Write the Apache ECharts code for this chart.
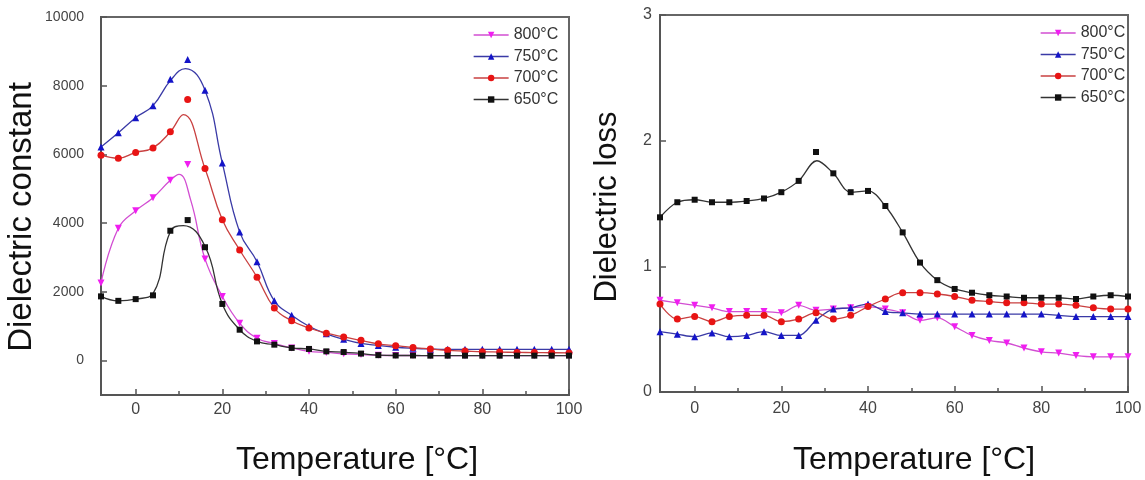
<!DOCTYPE html>
<html><head><meta charset="utf-8">
<script src="https://cdn.jsdelivr.net/npm/echarts@6/dist/echarts.min.js"></script>
<style>html,body{margin:0;padding:0;background:#fff}#c{width:1145px;height:480px}</style>
</head><body><div id="c"></div>
<script>
// ---------- data ----------
const seriesNames = ['800°C', '750°C', '700°C', '650°C'];
const temps = [-8, -4, 0, 4, 8, 12, 16, 20, 24, 28, 32, 36, 40, 44, 48, 52, 56, 60, 64, 68, 72, 76, 80, 84, 88, 92, 96, 100];

// Left: dielectric constant (markers)
const eps800 = [2260, 3850, 4360, 4740, 5250, 5710, 2960, 1870, 1090, 650, 500, 370, 270, 240, 200, 175, 155, 150, 150, 145, 145, 145, 145, 145, 145, 145, 145, 145];
const eps750 = [6220, 6630, 7070, 7420, 8190, 8760, 7870, 5750, 3740, 2880, 1740, 1320, 1000, 780, 620, 500, 440, 390, 360, 340, 330, 330, 330, 330, 330, 330, 330, 330];
const eps700 = [5980, 5890, 6060, 6190, 6660, 7600, 5590, 4100, 3220, 2430, 1530, 1160, 950, 800, 690, 590, 490, 435, 380, 340, 300, 280, 260, 250, 240, 235, 230, 225];
const eps650 = [1870, 1740, 1790, 1900, 3780, 4090, 3300, 1650, 900, 560, 465, 370, 340, 270, 250, 205, 160, 150, 150, 145, 145, 145, 145, 145, 145, 145, 145, 145];

// Left: fitted curves
const curveT800 = [-8, -4, 0, 4, 8, 10, 12.7, 16, 20, 24, 28, 32, 36, 40, 44, 48, 52, 56, 60, 64, 68, 72, 76, 80, 84, 88, 92, 96, 100];
const curve800 = [2260, 3850, 4360, 4740, 5250, 5420, 4670, 2960, 1870, 1090, 650, 500, 370, 270, 240, 200, 175, 155, 150, 150, 145, 145, 145, 145, 145, 145, 145, 145, 145];
const curveT750 = [-8, -4, 0, 4, 8, 11.5, 16, 20, 24, 28, 32, 36, 40, 44, 48, 52, 56, 60, 64, 68, 72, 76, 80, 84, 88, 92, 96, 100];
const curve750 = [6220, 6630, 7070, 7420, 8150, 8500, 7870, 5750, 3740, 2880, 1740, 1320, 1000, 780, 620, 500, 440, 390, 360, 340, 330, 330, 330, 330, 330, 330, 330, 330];
const curveT700 = [-8, -4, 0, 4, 8, 11, 16, 20, 24, 28, 32, 36, 40, 44, 48, 52, 56, 60, 64, 68, 72, 76, 80, 84, 88, 92, 96, 100];
const curve700 = [5980, 5890, 6060, 6190, 6660, 7160, 5590, 4100, 3220, 2430, 1530, 1160, 950, 800, 690, 590, 490, 435, 380, 340, 300, 280, 260, 250, 240, 235, 230, 225];
const curveT650 = [-8, -4, 0, 4, 8, 11, 16, 20, 24, 28, 32, 36, 40, 44, 48, 52, 56, 60, 64, 68, 72, 76, 80, 84, 88, 92, 96, 100];
const curve650 = [1870, 1740, 1790, 1950, 3760, 3930, 3330, 1650, 900, 560, 465, 370, 340, 270, 250, 205, 160, 150, 150, 145, 145, 145, 145, 145, 145, 145, 145, 145];

// Right: dielectric loss (markers)
const loss800 = [0.73, 0.71, 0.69, 0.67, 0.64, 0.64, 0.64, 0.63, 0.69, 0.65, 0.66, 0.67, 0.68, 0.66, 0.63, 0.57, 0.59, 0.52, 0.45, 0.41, 0.39, 0.35, 0.32, 0.31, 0.29, 0.28, 0.28, 0.28];
const loss750 = [0.48, 0.46, 0.44, 0.47, 0.44, 0.45, 0.48, 0.45, 0.45, 0.57, 0.66, 0.67, 0.70, 0.64, 0.63, 0.62, 0.62, 0.62, 0.62, 0.62, 0.62, 0.62, 0.62, 0.61, 0.60, 0.60, 0.60, 0.60];
const loss700 = [0.70, 0.58, 0.60, 0.56, 0.60, 0.61, 0.61, 0.56, 0.58, 0.63, 0.58, 0.61, 0.68, 0.74, 0.79, 0.79, 0.78, 0.76, 0.73, 0.72, 0.71, 0.71, 0.70, 0.70, 0.69, 0.67, 0.66, 0.66];
const loss650 = [1.39, 1.51, 1.53, 1.51, 1.51, 1.52, 1.54, 1.59, 1.68, 1.91, 1.74, 1.59, 1.60, 1.48, 1.27, 1.03, 0.89, 0.82, 0.79, 0.77, 0.76, 0.75, 0.75, 0.75, 0.74, 0.76, 0.77, 0.76];
// Right: fitted curve for 650°C (peak lies below the marker)
const curveT650loss = [-8, -4, 0, 4, 8, 12, 16, 20, 24, 28.2, 32, 36, 40, 44, 48, 52, 56, 60, 64, 68, 72, 76, 80, 84, 88, 92, 96, 100];
const curve650loss = [1.39, 1.51, 1.53, 1.51, 1.51, 1.52, 1.54, 1.59, 1.68, 1.84, 1.74, 1.59, 1.60, 1.48, 1.27, 1.03, 0.89, 0.82, 0.79, 0.77, 0.76, 0.75, 0.75, 0.75, 0.74, 0.76, 0.77, 0.76];

const xTicks = [0, 20, 40, 60, 80, 100];
const xMinorTicks = [10, 30, 50, 70, 90];
const yTicksLeft = [0, 2000, 4000, 6000, 8000, 10000];
const yTicksRight = [0, 1, 2, 3];

// ---------- styling ----------
const FONT = "'Liberation Sans', Arial, sans-serif";
const symbols = ['triangle', 'triangle', 'circle', 'rect'];
const rotates = [180, 0, 0, 0];
const markerColors = ['#f01ef0', '#1414c8', '#e81414', '#111111'];
const lineColors = ['#d24ed2', '#3a3aa6', '#c94040', '#333333'];
const AX = '#555';

function zip(xs, ys) { return xs.map((x, i) => [x, ys[i]]); }

const leftMarkers = [eps800, eps750, eps700, eps650];
const leftCurves = [[curveT800, curve800], [curveT750, curve750], [curveT700, curve700], [curveT650, curve650]];
const rightMarkers = [loss800, loss750, loss700, loss650];
const rightCurves = [[temps, loss800], [temps, loss750], [temps, loss700], [curveT650loss, curve650loss]];

const series = [];
function addSet(grid, curves, markers, smooth) {
  curves.forEach((c, i) => {
    series.push({
      type: 'line', name: seriesNames[i], xAxisIndex: grid * 3, yAxisIndex: grid * 2,
      data: zip(c[0], c[1]), smooth: smooth, showSymbol: false,
      symbol: symbols[i], symbolRotate: rotates[i],
      lineStyle: { color: lineColors[i], width: 1.3 }, itemStyle: { color: lineColors[i] },
      z: 2, silent: true
    });
  });
  markers.forEach((m, i) => {
    series.push({
      type: 'scatter', name: seriesNames[i], xAxisIndex: grid * 3, yAxisIndex: grid * 2,
      data: zip(temps, m), symbol: symbols[i], symbolRotate: rotates[i],
      symbolSize: symbols[i] === 'rect' ? 6 : 7,
      itemStyle: { color: markerColors[i], opacity: 1 }, z: 3, silent: true
    });
  });
}
addSet(0, leftCurves, leftMarkers, 0.45);
addSet(1, rightCurves, rightMarkers, 0.35);

function tickOnlyX(g, values, len) {
  return {
    gridIndex: g, type: 'value', min: -8, max: 100, position: 'bottom',
    axisLine: { show: false, onZero: false },
    axisTick: { show: true, inside: true, length: len, customValues: values, lineStyle: { color: AX, width: 1.5 } },
    axisLabel: { show: false }, splitLine: { show: false }
  };
}
function xAxes(g) {
  return [{
    gridIndex: g, type: 'value', min: -8, max: 100, position: 'bottom',
    axisLine: { onZero: false, lineStyle: { color: AX, width: 2 } },
    axisTick: { show: false },
    axisLabel: { customValues: xTicks, formatter: v => String(v), fontSize: 16, color: '#444', fontFamily: FONT, margin: g === 0 ? 7 : 9 },
    splitLine: { show: false }
  }, tickOnlyX(g, xTicks, 6), tickOnlyX(g, xMinorTicks, 4)];
}
function yAxes(g, min, max, ticks, fs, margin) {
  return [{
    gridIndex: g, type: 'value', min: min, max: max, position: 'left',
    axisLine: { show: true, onZero: false, lineStyle: { color: AX, width: 2 } },
    axisTick: { show: false },
    axisLabel: { customValues: ticks, formatter: v => String(v), fontSize: fs, color: '#444', fontFamily: FONT, margin: margin },
    splitLine: { show: false }
  }, {
    gridIndex: g, type: 'value', min: min, max: max, position: 'left',
    axisLine: { show: false, onZero: false },
    axisTick: { show: true, inside: true, length: 6, customValues: ticks, lineStyle: { color: AX, width: 1.5 } },
    axisLabel: { show: false }, splitLine: { show: false }
  }];
}

const option = {
  animation: false,
  backgroundColor: '#fff',
  grid: [
    { left: 101, top: 17, width: 468, height: 378, show: true, borderColor: '#666', borderWidth: 2, containLabel: false },
    { left: 660, top: 15, width: 468, height: 377, show: true, borderColor: '#666', borderWidth: 2, containLabel: false }
  ],
  xAxis: [...xAxes(0), ...xAxes(1)],
  yAxis: [...yAxes(0, -1000, 10000, yTicksLeft, 14, 17), ...yAxes(1, 0, 3, yTicksRight, 16, 8)],
  legend: [0, 1].map(g => ({
    orient: 'vertical', left: g === 0 ? 473 : 1040, top: g === 0 ? 27 : 25, padding: 0,
    itemWidth: 35, itemHeight: 8, itemGap: 5.5,
    textStyle: { fontSize: 16, color: '#333', fontFamily: FONT, lineHeight: 16 },
    selectedMode: false,
    data: seriesNames.map((n, i) => ({ name: n, itemStyle: { color: markerColors[i] }, lineStyle: { color: lineColors[i], width: 1.3 } }))
  })),
  graphic: [
    { type: 'text', x: 357, y: 460, style: { text: 'Temperature [°C]', font: '32px ' + FONT, fill: '#111', textAlign: 'center', textVerticalAlign: 'middle' } },
    { type: 'text', x: 914, y: 460, style: { text: 'Temperature [°C]', font: '32px ' + FONT, fill: '#111', textAlign: 'center', textVerticalAlign: 'middle' } },
    { type: 'text', x: 22, y: 217, rotation: Math.PI / 2, style: { text: 'Dielectric constant', font: '33px ' + FONT, fill: '#111', textAlign: 'center', textVerticalAlign: 'middle' } },
    { type: 'text', x: 607, y: 207, rotation: Math.PI / 2, style: { text: 'Dielectric loss', font: '31px ' + FONT, fill: '#111', textAlign: 'center', textVerticalAlign: 'middle' } }
  ],
  series: series
};
const chart = echarts.init(document.getElementById('c'), null, { renderer: 'canvas' });
chart.setOption(option);
</script>
</body></html>
